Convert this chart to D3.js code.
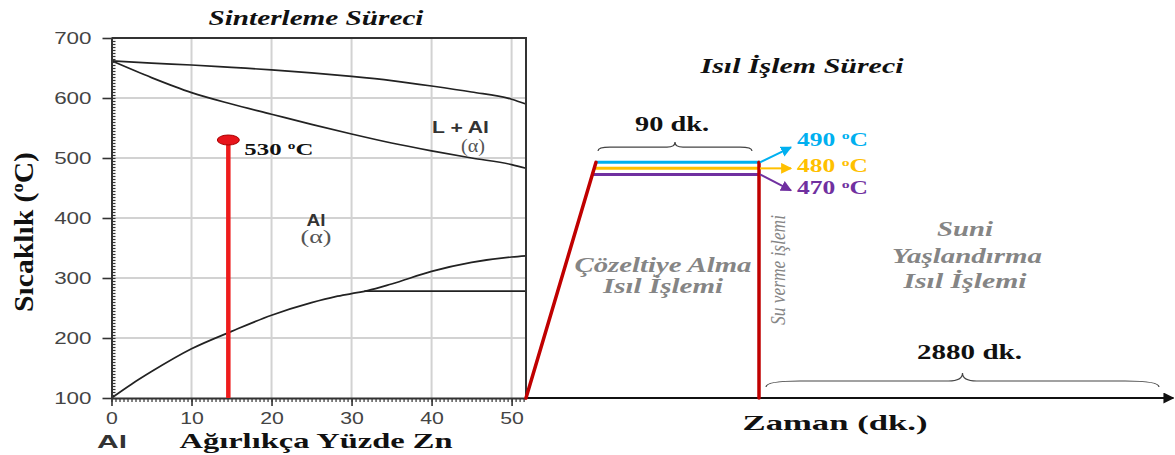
<!DOCTYPE html>
<html>
<head>
<meta charset="utf-8">
<script src="https://cdn.jsdelivr.net/npm/d3@7"></script>
<style>
  body { margin: 0; background: #fff; }
  svg { display: block; }
</style>
</head>
<body>
<div id="chart"></div>
<script>
// Al-Zn phase diagram (left part)
const znGrid   = [0, 5, 10, 15, 20, 25, 30, 35, 40, 45, 50, 51.8];
const liquidus = [662, 658, 655, 651, 647, 642, 636, 629, 620, 610, 598, 590];
const solidus  = [662, 634, 609, 590, 573, 556, 540, 525, 512, 500, 489, 483];
const solvusZn = [0, 2.5, 5, 10, 15, 20, 25, 28, 30, 32, 35, 40, 45, 50, 51.8];
const solvusT  = [100, 123, 144, 182, 211, 238, 259, 269, 274, 279, 290, 311, 326, 335, 337];
const eutectoidZn = [31.6, 51.8];
const eutectoidT = 278;
const sinterZn = 14.6, sinterT = 530;
const znTicks = [0, 10, 20, 30, 40, 50];
const tempTicks = [100, 200, 300, 400, 500, 600, 700];

// heat treatment (right part) - schematic time axis
const stepTime = [0, 30, 120, 125, 3005];   // heating, 90 dk. solution, quench, 2880 dk. aging
const heatTime = [0, 30, 120, 120];
const heatTemp = [100, 490, 490, 100];
const holdTemps = [490, 480, 470];
const holdColors = ["#00b0f0", "#ffc000", "#7030a0"];
const holdMinutes = 90, agingMinutes = 2880;
const axisEndTime = 3110;

const w = 1175, h = 455;
const SERIF = '"Liberation Serif", "DejaVu Serif", serif';
const SANS = '"Liberation Sans", "DejaVu Sans", sans-serif';

var svg = d3.select("#chart").append("svg")
    .attr("width", w)
    .attr("height", h);

var defs = svg.append("defs");
function marker(id, color, size) {
    defs.append("marker")
        .attr("id", id)
        .attr("viewBox", "0 0 10 10")
        .attr("refX", 9).attr("refY", 5)
        .attr("markerWidth", size).attr("markerHeight", size)
        .attr("markerUnits", "userSpaceOnUse")
        .attr("orient", "auto")
      .append("path")
        .attr("d", "M0,0 L10,5 L0,10 z")
        .attr("fill", color);
}
holdColors.forEach(function(c, i) { marker("arr" + i, c, 11); });
marker("arrAxis", "#111", 11);

// text helper: parts may contain {sup: "o"}
function label(g, parts, px, py, o) {
    let el = g.append("text")
        .attr("transform", "translate(" + px + "," + py + ")" + (o.rotate ? " rotate(" + o.rotate + ")" : ""))
        .style("font-family", o.sans ? SANS : SERIF)
        .style("font-size", o.size + "px")
        .style("font-weight", o.bold ? "bold" : "normal")
        .style("font-style", o.italic ? "italic" : "normal")
        .attr("fill", o.fill || "#111")
        .attr("text-anchor", o.anchor || "middle");
    let shift = 0;
    [].concat(parts).forEach(function(p) {
        if (typeof p === "string") {
            el.append("tspan").attr("dy", -shift).text(p);
            shift = 0;
        } else {
            shift = -o.size * 0.38;
            el.append("tspan").attr("dy", shift).style("font-size", (o.size * 0.62) + "px").text(p.sup);
        }
    });
    if (o.width) el.attr("textLength", o.width).attr("lengthAdjust", "spacingAndGlyphs");
    return el;
}

// ---------- left: phase diagram ----------
var x = d3.scaleLinear().domain([0, 51.8]).range([111.5, 526]);
var y = d3.scaleLinear().domain([100, 700]).range([398, 38]);

var grid = svg.append("g");
grid.selectAll("vgrid")
    .data(znTicks.slice(1))
    .enter().append("line")
    .attr("x1", function(d) { return x(d); })
    .attr("x2", function(d) { return x(d); })
    .attr("y1", y(100)).attr("y2", y(700))
    .attr("stroke", "#d2d2d2").attr("stroke-width", 2);
grid.selectAll("hgrid")
    .data(tempTicks.slice(1, -1))
    .enter().append("line")
    .attr("y1", function(d) { return y(d); })
    .attr("y2", function(d) { return y(d); })
    .attr("x1", x(0)).attr("x2", x(51.8))
    .attr("stroke", "#d2d2d2").attr("stroke-width", 2);

var curve = d3.line()
    .x(function(d) { return x(d[0]); })
    .y(function(d) { return y(d[1]); })
    .curve(d3.curveMonotoneX);

var curves = [
    d3.zip(znGrid, liquidus),
    d3.zip(znGrid, solidus),
    d3.zip(solvusZn, solvusT),
    eutectoidZn.map(function(z) { return [z, eutectoidT]; })
];
svg.selectAll("phase")
    .data(curves)
    .enter().append("path")
    .attr("d", curve)
    .attr("fill", "none")
    .attr("stroke", "#222")
    .attr("stroke-width", 1.7);

// frame top / right
svg.append("path")
    .attr("d", "M" + x(0) + "," + y(700) + "H" + x(51.8) + "V" + y(100))
    .attr("fill", "none").attr("stroke", "#333").attr("stroke-width", 2);

// minor ticks
svg.append("g")
    .attr("transform", "translate(" + x(0) + ",0)")
    .call(d3.axisRight(y).tickValues(d3.range(100, 701, 5)).tickSize(4).tickFormat(""))
    .call(function(g) { g.select(".domain").remove(); g.selectAll("line").attr("stroke", "#333").attr("stroke-width", 1.2); });
svg.append("g")
    .attr("transform", "translate(0," + y(100) + ")")
    .call(d3.axisBottom(x).tickValues(d3.range(0, 51.6, 0.5)).tickSize(4).tickFormat(""))
    .call(function(g) { g.select(".domain").remove(); g.selectAll("line").attr("stroke", "#333").attr("stroke-width", 1.2); });

// major axes
var yAxis = svg.append("g")
    .attr("transform", "translate(" + x(0) + ",0)")
    .call(d3.axisLeft(y).tickValues(tempTicks).tickSize(9).tickSizeOuter(0).tickPadding(11));
var xAxis = svg.append("g")
    .attr("transform", "translate(0," + y(100) + ")")
    .call(d3.axisBottom(x).tickValues(znTicks).tickSize(8).tickSizeOuter(0).tickPadding(6));
[yAxis, xAxis].forEach(function(a, i) {
    a.select(".domain").attr("stroke", "#333").attr("stroke-width", 2);
    a.selectAll("line").attr("stroke", "#333").attr("stroke-width", 1.6);
    a.selectAll("text")
        .style("font-family", SANS)
        .style("font-size", (i == 0 ? 16 : 17) + "px")
        .attr("fill", "#444")
        .each(function() {
            let len = this.getComputedTextLength();
            d3.select(this).attr("textLength", len * (i == 0 ? 1.4 : 1.25)).attr("lengthAdjust", "spacingAndGlyphs");
        });
});

// sintering temperature
svg.append("line")
    .attr("x1", x(sinterZn)).attr("x2", x(sinterZn))
    .attr("y1", y(100)).attr("y2", y(sinterT))
    .attr("stroke", "#ee1c1c").attr("stroke-width", 4.5);
svg.append("ellipse")
    .attr("cx", x(sinterZn)).attr("cy", y(sinterT))
    .attr("rx", 11).attr("ry", 5)
    .attr("fill", "#e8141b").attr("stroke", "#a00").attr("stroke-width", 1);

var txt = svg.append("g");
label(txt, "Sinterleme Süreci", 316, 25, {size: 20, bold: true, italic: true, width: 215});
label(txt, [String(sinterT) + " ", {sup: "o"}, "C"], x(sinterZn) + 16, 155, {size: 17, bold: true, anchor: "start", width: 69});
label(txt, "L + Al", 432, 133, {size: 16, bold: true, sans: true, anchor: "start", width: 57, fill: "#333"});
label(txt, "(α)", 473, 152, {size: 18, fill: "#555", width: 24});
label(txt, "Al", 316, 226, {size: 16, bold: true, sans: true, width: 19, fill: "#333"});
label(txt, "(α)", 316, 243, {size: 18, fill: "#555", width: 31});
label(txt, ["Sıcaklık (", {sup: "o"}, "C)"], 33, 232, {size: 27, bold: true, rotate: -90, width: 160});
label(txt, "Al", 112, 448, {size: 18, bold: true, sans: true, width: 30, fill: "#333"});
label(txt, "Ağırlıkça Yüzde Zn", 316, 448, {size: 21, bold: true, width: 273});

// ---------- right: heat treatment ----------
var t = d3.scaleLinear().domain(stepTime).range([526, 596, 759, 766, 1159]);
var yT = d3.scaleLinear().domain([100, 700]).range([398, 35.4]);
var rampTime = d3.scaleLinear().domain([heatTemp[0], heatTemp[1]]).range([heatTime[0], heatTime[1]]);

// time axis
svg.append("line")
    .attr("x1", t(0)).attr("x2", t(axisEndTime))
    .attr("y1", yT(100)).attr("y2", yT(100))
    .attr("stroke", "#111").attr("stroke-width", 2)
    .attr("marker-end", "url(#arrAxis)");

// hold lines
svg.selectAll("hold")
    .data(holdTemps)
    .enter().append("line")
    .attr("x1", function(d) { return t(rampTime(d)); })
    .attr("x2", t(heatTime[2]))
    .attr("y1", function(d) { return yT(d); })
    .attr("y2", function(d) { return yT(d); })
    .attr("stroke", function(d, i) { return holdColors[i]; })
    .attr("stroke-width", 3);

// heating ramp and quench (the hold itself is drawn by the coloured lines)
var heatSegs = d3.pairs(d3.zip(heatTime, heatTemp)).filter(function(p) { return p[0][1] != p[1][1]; });
svg.selectAll("heat")
    .data(heatSegs)
    .enter().append("line")
    .attr("x1", function(d) { return t(d[0][0]); })
    .attr("y1", function(d) { return yT(d[0][1]); })
    .attr("x2", function(d) { return t(d[1][0]); })
    .attr("y2", function(d) { return yT(d[1][1]); })
    .attr("stroke", "#c00000")
    .attr("stroke-width", 3.5)
    .attr("stroke-linecap", "round");

// arrows to temperature labels
let arrowDy = [-15, 0, 16];
svg.selectAll("arrows")
    .data(holdTemps)
    .enter().append("line")
    .attr("x1", t(heatTime[2]) + 1)
    .attr("y1", function(d) { return yT(d); })
    .attr("x2", t(heatTime[2]) + 32)
    .attr("y2", function(d, i) { return yT(d) + arrowDy[i]; })
    .attr("stroke", function(d, i) { return holdColors[i]; })
    .attr("stroke-width", 2)
    .attr("marker-end", function(d, i) { return "url(#arr" + i + ")"; });
holdTemps.forEach(function(d, i) {
    label(txt, [d + " ", {sup: "o"}, "C"], 797, yT(d) + arrowDy[i] + (i == 0 ? -1 : 4), {size: 18, bold: true, anchor: "start", width: 71, fill: holdColors[i]});
});

// braces
function brace(x1, x2, yb, bh, rEnd, rTip) {
    let m = (x1 + x2) / 2, yf = yb - bh * 0.43, yt = yb - bh;
    return "M" + x1 + "," + yb + " Q" + x1 + "," + yf + " " + (x1 + rEnd) + "," + yf +
        " L" + (m - rTip) + "," + yf + " Q" + m + "," + yf + " " + m + "," + yt +
        " Q" + m + "," + yf + " " + (m + rTip) + "," + yf +
        " L" + (x2 - rEnd) + "," + yf + " Q" + x2 + "," + yf + " " + x2 + "," + yb;
}
var b1 = [t(stepTime[1]) + 2, t(stepTime[1] + holdMinutes) - 7];
var b2 = [t(stepTime[3]), t(stepTime[3] + agingMinutes)];
svg.append("path").attr("d", brace(b1[0], b1[1], 151, 9, 12, 8))
    .attr("fill", "none").attr("stroke", "#444").attr("stroke-width", 1.2);
svg.append("path").attr("d", brace(b2[0], b2[1], 387, 14, 34, 14))
    .attr("fill", "none").attr("stroke", "#444").attr("stroke-width", 1.2);

label(txt, holdMinutes + " dk.", (b1[0] + b1[1]) / 2 - 3, 131, {size: 20, bold: true, width: 74});
label(txt, agingMinutes + " dk.", (b2[0] + b2[1]) / 2 + 7, 359, {size: 20, bold: true, width: 105});
label(txt, "Isıl İşlem Süreci", 802, 73, {size: 20, bold: true, italic: true, width: 203});
label(txt, "Zaman (dk.)", 835, 430, {size: 22, bold: true, width: 185});

var grey = "#858585";
label(txt, "Çözeltiye Alma", 663, 272, {size: 20, bold: true, italic: true, width: 177, fill: grey});
label(txt, "Isıl İşlemi", 663, 293, {size: 20, bold: true, italic: true, width: 120, fill: grey});
label(txt, "Su verme işlemi", 785, 270, {size: 21, italic: true, rotate: -90, width: 110, fill: grey});
label(txt, "Suni", 965, 236, {size: 20, bold: true, italic: true, width: 56, fill: grey});
label(txt, "Yaşlandırma", 967, 263, {size: 20, bold: true, italic: true, width: 150, fill: grey});
label(txt, "Isıl İşlemi", 965, 288, {size: 20, bold: true, italic: true, width: 123, fill: grey});
</script>
</body>
</html>
